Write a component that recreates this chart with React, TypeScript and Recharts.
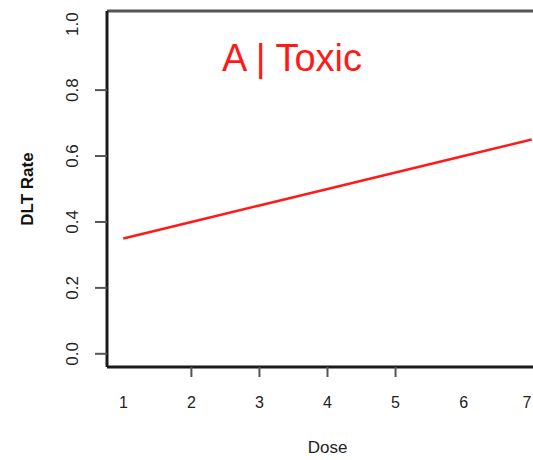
import React from 'react';
import { LineChart, Line, XAxis, YAxis, ReferenceLine } from 'recharts';

// Dose levels and the estimated DLT rate at each
const doses = [1, 2, 3, 4, 5, 6, 7];
const dltRates = [0.35, 0.4, 0.45, 0.5, 0.55, 0.6, 0.65];

const xTicks = [1, 2, 3, 4, 5, 6, 7];
const yTicks = [0, 0.2, 0.4, 0.6, 0.8, 1.0];
// only these ticks get a tick mark
const xTickMarks = [2, 3, 4, 5];
const yTickMarks = [0, 0.2, 0.4, 0.6, 0.8];

const data = doses.map((dose, i) => ({ dose, rate: dltRates[i] }));

const FONT = '"Liberation Sans", Arial, sans-serif';
const X_TICK_LEN = 10;
const Y_TICK_LEN = 12;

const XTick = ({ x, y, payload }: any) => (
  <g>
    {xTickMarks.includes(payload.value) && (
      <line x1={x} x2={x} y1={y - X_TICK_LEN} y2={y} stroke="#555" strokeWidth={2} />
    )}
    <text
      x={Math.min(x, 527)}
      y={y + 25}
      textAnchor="middle"
      dominantBaseline="central"
      fontSize={16}
      fontFamily={FONT}
      fill="#222"
    >
      {payload.value}
    </text>
  </g>
);

const YTick = ({ x, y, payload }: any) => {
  const cx = x - 22;
  return (
    <g>
      {yTickMarks.includes(payload.value) && (
        <line x1={x} x2={x + Y_TICK_LEN} y1={y} y2={y} stroke="#555" strokeWidth={2} />
      )}
      <text
        x={cx}
        y={y}
        transform={`rotate(-90, ${cx}, ${y})`}
        textAnchor="middle"
        dominantBaseline="central"
        fontSize={17}
        fontFamily={FONT}
        fill="#222"
      >
        {payload.value.toFixed(1)}
      </text>
    </g>
  );
};

const App: React.FC = () => {
  return (
    <div
      style={{
        position: 'fixed',
        left: 0,
        top: 0,
        width: 533,
        height: 460,
        overflow: 'hidden',
        background: '#fff',
      }}
    >
      <LineChart
        width={560}
        height={460}
        data={data}
        margin={{ top: 11, right: 12, left: 0, bottom: 0 }}
      >
        <XAxis
          dataKey="dose"
          type="number"
          domain={[0.76, 7.24]}
          ticks={xTicks}
          allowDataOverflow
          height={93}
          tickSize={X_TICK_LEN}
          tickMargin={0}
          tickLine={false}
          tick={<XTick />}
          axisLine={{ stroke: '#1a1a1a', strokeWidth: 3 }}
          label={({ viewBox }: any) => (
            <text
              x={viewBox.x + viewBox.width / 2}
              y={viewBox.y + 80}
              textAnchor="middle"
              dominantBaseline="central"
              fontSize={17}
              fontFamily={FONT}
              fill="#222"
            >
              Dose
            </text>
          )}
        />
        <YAxis
          type="number"
          domain={[-0.04, 1.04]}
          ticks={yTicks}
          allowDataOverflow
          width={107}
          tickSize={Y_TICK_LEN}
          tickMargin={0}
          tickLine={false}
          tick={<YTick />}
          axisLine={{ stroke: '#1a1a1a', strokeWidth: 3 }}
          label={({ viewBox }: any) => {
            const cx = viewBox.x + 27;
            const cy = viewBox.y + viewBox.height / 2;
            return (
              <text
                x={cx}
                y={cy}
                transform={`rotate(-90, ${cx}, ${cy})`}
                textAnchor="middle"
                dominantBaseline="central"
                fontSize={17}
                fontWeight="bold"
                fontFamily={FONT}
                fill="#111"
              >
                DLT Rate
              </text>
            );
          }}
        />
        {/* top edge of the plot box */}
        <ReferenceLine y={1.04} stroke="#555" strokeWidth={3} ifOverflow="visible" />
        <Line
          dataKey="rate"
          stroke="#ff1a1a"
          strokeWidth={2.5}
          dot={false}
          isAnimationActive={false}
        />
      </LineChart>
      <svg
        width={533}
        height={460}
        style={{ position: 'absolute', left: 0, top: 0, pointerEvents: 'none' }}
      >
        <text
          x={292}
          y={71}
          textAnchor="middle"
          fontSize={38}
          fontFamily={FONT}
          fill="#ff1a1a"
        >
          A | Toxic
        </text>
      </svg>
    </div>
  );
};

export default App;
